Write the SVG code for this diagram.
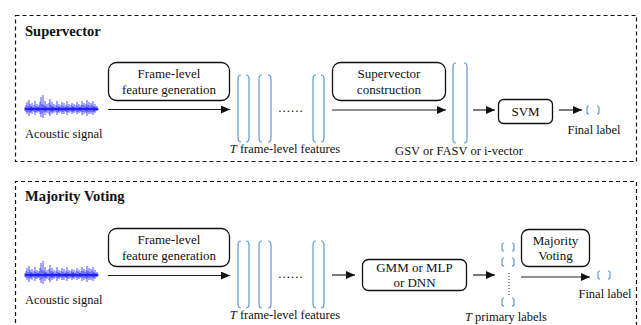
<svg xmlns="http://www.w3.org/2000/svg" xmlns:xlink="http://www.w3.org/1999/xlink" width="641" height="325" viewBox="0 0 641 325" font-family="Liberation Serif, Times New Roman, Tinos, DejaVu Serif, serif">
<style>
.frame{fill:none;stroke:#111;stroke-width:1.2;stroke-dasharray:4 3}
.box{fill:#fff;stroke:#111;stroke-width:1.3}
.txt{font-size:13px;fill:#111;text-anchor:middle}
.lbl{font-size:12.5px;fill:#111}
.title{font-size:14.5px;font-weight:bold;fill:#111}
.arr{stroke:#222;stroke-width:1.2;fill:none;marker-end:url(#ah)}
.brk{fill:none;stroke:#5b9bd5;stroke-width:1.2}
.wave{stroke:#1f1fff;stroke-width:0.8;fill:none}
</style>
<defs>
<marker id="ah" markerUnits="userSpaceOnUse" markerWidth="9" markerHeight="8" refX="9" refY="4" orient="auto">
<path d="M0,0 L9,4 L0,8 z" fill="#111"/>
</marker>
<g id="waveform">
<path class="wave" d="M25,107V111 M26,105V112 M27,102V114 M28,106V112 M29,100V116 M30,104V113 M31,106V112 M32,103V114 M33,107V111 M34,105V112 M35,101V115 M36,106V112 M37,104V113 M38,107V111 M39,105V112 M40,102V114 M41,97V117 M42,104V113 M43,95V118 M44,105V112 M45,101V115 M46,106V112 M47,104V113 M48,107V111 M49,103V114 M50,99V116 M51,105V112 M52,102V114 M53,106V112 M54,104V113 M55,107V111 M56,105V112 M57,101V115 M58,106V112 M59,104V113 M60,107V111 M61,105V112 M62,102V114 M63,106V112 M64,103V114 M65,107V111 M66,105V112 M67,101V115 M68,106V112 M69,104V113 M70,107V111 M71,105V112 M72,103V114 M73,106V112 M74,104V113 M75,107V111 M76,105V112 M77,102V114 M78,106V112 M79,104V113 M80,107V111 M81,105V112 M82,101V115 M83,105V112 M84,103V114 M85,106V112 M86,104V113 M87,100V116 M88,105V112 M89,102V114 M90,106V112 M91,103V114 M92,105V112 M93,101V115 M94,106V112 M95,104V113 M96,107V111 M97,106V111 M98,108V110"/>
<path d="M25,109H98" stroke="#1f1fff" stroke-width="2"/>
<g fill="#1f1fff"><circle cx="31" cy="109" r="1.8"/><circle cx="38" cy="109" r="1.8"/><circle cx="45" cy="109" r="1.8"/><circle cx="52" cy="109" r="1.8"/><circle cx="59" cy="109" r="1.8"/><circle cx="66" cy="109" r="1.8"/><circle cx="73" cy="109" r="1.8"/><circle cx="80" cy="109" r="1.8"/><circle cx="87" cy="109" r="1.8"/><circle cx="94" cy="109" r="1.8"/></g>
</g>
</defs>

<!-- Section frames -->
<g id="section-supervector">
<rect class="frame" x="15.5" y="15.5" width="621" height="146"/>
<text class="title" x="25" y="36">Supervector</text>
</g>
<g id="section-majority">
<path class="frame" d="M15.5,330V181.5H636.5V330"/>
<text class="title" x="25" y="201">Majority Voting</text>
</g>

<!-- Top row nodes -->
<g id="sv-signal">
<use xlink:href="#waveform"/>
<text class="lbl" x="25" y="138">Acoustic signal</text>
</g>
<g id="sv-framegen">
<rect class="box" x="108.5" y="62.5" width="121" height="38" rx="8"/>
<text class="txt" x="169" y="78">Frame-level</text>
<text class="txt" x="169" y="94">feature generation</text>
</g>
<g id="sv-features">
<path class="brk" d="M241,75Q238,75 238,79V138Q238,142 241,142 M246,75Q249,75 249,79V138Q249,142 246,142"/>
<path class="brk" d="M262,75Q259,75 259,79V138Q259,142 262,142 M268,75Q271,75 271,79V138Q271,142 268,142"/>
<path class="brk" d="M316,75Q313,75 313,79V138Q313,142 316,142 M321,75Q324,75 324,79V138Q324,142 321,142"/>
<text class="txt" x="291" y="112" letter-spacing="1">......</text>
<text class="lbl" x="285" y="153" text-anchor="middle"><tspan font-style="italic">T</tspan> frame-level features</text>
</g>
<g id="sv-construction">
<rect class="box" x="332.5" y="62.5" width="113" height="38" rx="8"/>
<text class="txt" x="389" y="78">Supervector</text>
<text class="txt" x="389" y="94">construction</text>
</g>
<g id="sv-vector">
<path class="brk" d="M456,63Q453,63 453,67V139Q453,143 456,143 M464,63Q467,63 467,67V139Q467,143 464,143"/>
<text class="lbl" x="459" y="155" text-anchor="middle">GSV or FASV or i-vector</text>
</g>
<g id="sv-svm">
<rect class="box" x="498.5" y="99.5" width="54" height="24" rx="5"/>
<text class="txt" x="525.5" y="116">SVM</text>
</g>
<g id="sv-final">
<path class="brk" d="M589,106Q587,106 587,108V112Q587,114 589,114 M597,106Q599,106 599,108V112Q599,114 597,114"/>
<text class="lbl" x="594" y="134" text-anchor="middle">Final label</text>
</g>

<!-- Bottom row nodes -->
<g id="mv-signal">
<use xlink:href="#waveform" y="166"/>
<text class="lbl" x="25" y="304">Acoustic signal</text>
</g>
<g id="mv-framegen">
<rect class="box" x="108.5" y="228.5" width="121" height="38" rx="8"/>
<text class="txt" x="169" y="244">Frame-level</text>
<text class="txt" x="169" y="260">feature generation</text>
</g>
<g id="mv-features">
<path class="brk" d="M241,241Q238,241 238,245V304Q238,308 241,308 M246,241Q249,241 249,245V304Q249,308 246,308"/>
<path class="brk" d="M262,241Q259,241 259,245V304Q259,308 262,308 M268,241Q271,241 271,245V304Q271,308 268,308"/>
<path class="brk" d="M316,241Q313,241 313,245V304Q313,308 316,308 M321,241Q324,241 324,245V304Q324,308 321,308"/>
<text class="txt" x="291" y="278" letter-spacing="1">......</text>
<text class="lbl" x="285" y="319" text-anchor="middle"><tspan font-style="italic">T</tspan> frame-level features</text>
</g>
<g id="mv-classifier">
<rect class="box" x="362.5" y="259.5" width="104" height="31" rx="6"/>
<text class="txt" x="414.5" y="272">GMM or MLP</text>
<text class="txt" x="414.5" y="287">or DNN</text>
</g>
<g id="mv-primary">
<path class="brk" d="M504,243Q502,243 502,245V249Q502,251 504,251 M512,243Q514,243 514,245V249Q514,251 512,251"/>
<path class="brk" d="M504,258Q502,258 502,260V264Q502,266 504,266 M512,258Q514,258 514,260V264Q514,266 512,266"/>
<path d="M509,273V297" stroke="#222" stroke-width="1" stroke-dasharray="1 2"/>
<path class="brk" d="M504,298Q502,298 502,300V304Q502,306 504,306 M512,298Q514,298 514,300V304Q514,306 512,306"/>
<text class="lbl" x="506" y="321" text-anchor="middle"><tspan font-style="italic">T</tspan> primary labels</text>
</g>
<g id="mv-voting">
<rect class="box" x="521.5" y="229.5" width="68" height="37" rx="7"/>
<text class="txt" x="555.5" y="245">Majority</text>
<text class="txt" x="555.5" y="260">Voting</text>
</g>
<g id="mv-final">
<path class="brk" d="M600,271Q598,271 598,273V277Q598,279 600,279 M608,271Q610,271 610,273V277Q610,279 608,279"/>
<text class="lbl" x="605" y="298" text-anchor="middle">Final label</text>
</g>

<!-- Connectors -->
<g id="connectors">
<path class="arr" d="M108,109.5H230"/>
<path class="arr" d="M332,110H446"/>
<path class="arr" d="M473,110H495"/>
<path class="arr" d="M559,110H582"/>
<path class="arr" d="M108,275.5H230"/>
<path class="arr" d="M332,275H355"/>
<path class="arr" d="M473,275H495"/>
<path class="arr" d="M521,277H590"/>
</g>
</svg>
